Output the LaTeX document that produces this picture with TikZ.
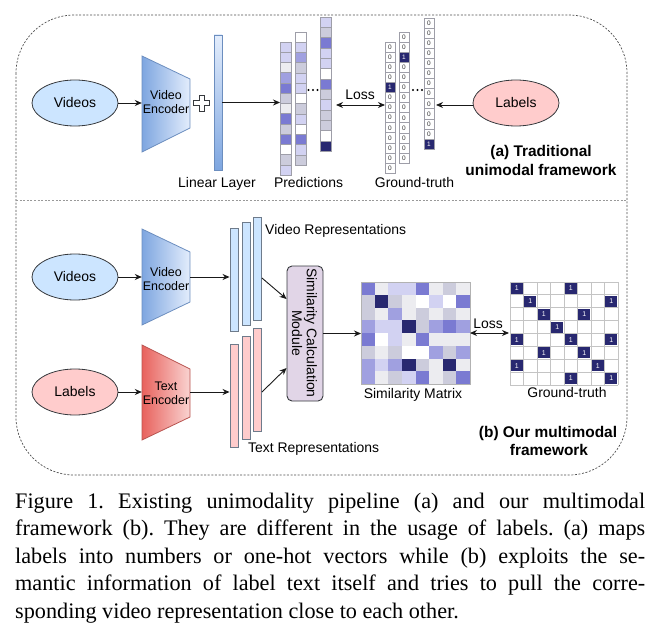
\documentclass[tikz,border=0pt]{standalone}
\usepackage{fontspec}
\setmainfont{Liberation Serif}
\newfontfamily\diagfont{Liberation Sans}
\usetikzlibrary{arrows.meta,shapes.geometric}

\definecolor{edge}{HTML}{36393D}
\definecolor{blueFill}{HTML}{CCE5FF}
\definecolor{pinkFill}{HTML}{FFCCCC}
\definecolor{encBlueDark}{HTML}{7EA6E0}
\definecolor{encBlueLight}{HTML}{E3EDFC}
\definecolor{encBlueLine}{HTML}{6C8EBF}
\definecolor{encRedDark}{HTML}{E8625D}
\definecolor{encRedLight}{HTML}{F9D3D1}
\definecolor{encRedLine}{HTML}{B85450}
\definecolor{moduleFill}{HTML}{E1D5E7}
\definecolor{repLine}{HTML}{6E7B8B}
\definecolor{cellLine}{HTML}{9E9EA8}
\definecolor{gridLine}{HTML}{C4C4C4}
\definecolor{cL}{RGB}{210,210,242}
\definecolor{cG}{RGB}{204,204,220}
\definecolor{cM}{RGB}{160,160,224}
\definecolor{cP}{RGB}{122,122,210}
\definecolor{cN}{RGB}{40,40,112}
\definecolor{cW}{RGB}{255,255,255}
\definecolor{cO}{RGB}{236,236,240}

\tikzset{
  frameline/.style={draw=black!70, line width=0.7bp, dash pattern=on 2bp off 1.6bp},
  divline/.style={draw=black!40, line width=0.7bp, dash pattern=on 2bp off 1.6bp},
  lbl/.style={font=\diagfont\fontsize{14}{16}\selectfont, inner sep=0pt, anchor=base},
  lblw/.style={font=\diagfont\fontsize{14}{16}\selectfont, inner sep=0pt, anchor=base west},
  titletext/.style={font=\diagfont\bfseries\fontsize{15.5}{19}\selectfont, inner sep=0pt, anchor=base},
  enctext/.style={font=\diagfont\fontsize{12.5}{14}\selectfont, align=center, inner sep=0pt},
  oval/.style={ellipse, draw=edge, line width=0.8bp, minimum width=86bp, minimum height=46bp,
    inner sep=0pt, font=\diagfont\fontsize{14}{16}\selectfont},
  arr/.style={-{Stealth[length=7bp,width=6bp]}, line width=0.9bp, draw=black!90},
  biarr/.style={{Stealth[length=7bp,width=6bp]}-{Stealth[length=7bp,width=6bp]}, line width=0.9bp, draw=black!90},
  repbar/.style={draw=repLine, line width=0.9bp, minimum width=8bp, inner sep=0pt},
  box/.style={inner sep=0pt, outer sep=0pt},
  cell/.style={draw=cellLine, line width=0.8bp},
  digit/.style={font=\diagfont\fontsize{6.5}{7}\selectfont, inner sep=0pt},
  gt0/.style={fill=white}, gt1/.style={fill=cN},
  gtt0/.style={text=black!80}, gtt1/.style={text=white},
  dot/.style={circle, fill=black, inner sep=0pt, minimum size=2.2bp},
  capline/.style={anchor=base west, inner sep=0pt, font=\frenchspacing\fontsize{22.3}{27}\selectfont}
}

\begin{document}
\begin{tikzpicture}[x=1bp,y=-1bp]
\useasboundingbox (0,0) rectangle (664,639);

% outer frame and the divider between the two panels
\draw[frameline, rounded corners=58bp] (16,15) rectangle (627,475);
\draw[divline] (16,200) -- (627,200);

% ---------------- (a) unimodal pipeline ----------------
\node[oval, fill=blueFill] (vidA) at (75,103) {Videos};
\path[left color=encBlueDark, right color=encBlueLight, draw=encBlueLine, line width=0.8bp]
  (142,56) -- (190,79) -- (190,128) -- (142,152) -- cycle;
\node[enctext, minimum width=48bp, minimum height=96bp] (encA) at (166,102) {Video\\Encoder};
\draw[arr] (vidA.east) -- (vidA.east -| encA.west);

% plus sign
\draw[line width=0.9bp, draw=edge, fill=white]
  (199,95) -- (204,95) -- (204,100.5) -- (209.5,100.5) -- (209.5,105.5) -- (204,105.5)
  -- (204,111) -- (199,111) -- (199,105.5) -- (193.5,105.5) -- (193.5,100.5) -- (199,100.5) -- cycle;

% linear layer
\node[draw=encBlueLine, top color=encBlueLight, bottom color=encBlueDark, line width=0.8bp,
  minimum width=8bp, minimum height=135bp, inner sep=0pt] (lin) at (218,102.5) {};
\node[lbl] (linlbl) at (217,188) {Linear Layer};

% prediction vectors
\foreach \c [count=\i] in {L,L,O,M,P,G,O,P,G,P,W,G,L}
  \draw[cell, fill=c\c] (280,{42+(\i-1)*10.25}) rectangle ++(11,10.25);
\node[box, minimum width=11bp, minimum height=133.25bp] (pc1) at (285.5,108.625) {};
\foreach \c [count=\i] in {W,L,M,G,L,L,W,G,L,W,P,L,G}
  \draw[cell, fill=c\c] (295,{32+(\i-1)*10.25}) rectangle ++(11,10.25);
\node[box, minimum width=11bp, minimum height=133.25bp] (pc2) at (300.5,98.625) {};
\foreach \c [count=\i] in {L,G,P,L,L,W,P,G,L,G,G,W,N}
  \draw[cell, fill=c\c] (320,{17+(\i-1)*10.35}) rectangle ++(11,10.35);
\node[box, minimum width=11bp, minimum height=134.55bp] (pc3) at (325.5,84.275) {};
\foreach \x [count=\i] in {308.5,313,317.5}
  \node[dot] (pdot\i) at (\x,90) {};
\node[lbl] (predlbl) at (308.5,188) {Predictions};

\coordinate (rowA) at (0,105);
\draw[arr] (lin.east) -- (lin.east -| pc1.west);

% one-hot ground truth vectors
\foreach \v [count=\i] in {0,0,0,0,1,0,0,0,0,0,0,0,0} {
  \draw[cell, gt\v] (385,{42+(\i-1)*10.1}) rectangle ++(10,10.1);
  \node[digit, gtt\v] (ga-\i) at (390,{42+(\i-0.5)*10.1}) {\v};
}
\node[box, minimum width=10bp, minimum height=131.3bp] (gc1) at (390,107.65) {};
\foreach \v [count=\i] in {0,0,1,0,0,0,0,0,0,0,0,0,0} {
  \draw[cell, gt\v] (399,{32+(\i-1)*10.1}) rectangle ++(10,10.1);
  \node[digit, gtt\v] (gb-\i) at (404,{32+(\i-0.5)*10.1}) {\v};
}
\node[box, minimum width=10bp, minimum height=131.3bp] (gc2) at (404,97.65) {};
\foreach \v [count=\i] in {0,0,0,0,0,0,0,0,0,0,0,0,1} {
  \draw[cell, gt\v] (424,{18+(\i-1)*10.1}) rectangle ++(10,10.1);
  \node[digit, gtt\v] (gc-\i) at (429,{18+(\i-0.5)*10.1}) {\v};
}
\node[box, minimum width=10bp, minimum height=131.3bp] (gc3) at (429,83.65) {};
\foreach \x [count=\i] in {413,417.5,422}
  \node[dot] (gdot\i) at (\x,90) {};
\node[lbl] (gtlblA) at (414.5,188) {Ground-truth};

% loss between predictions and one-hot targets
\node[lbl] (lossA) at (360,100) {Loss};
\draw[biarr, shorten <=5bp] (pc3.east |- rowA) -- (gc1.west |- rowA);

% labels feeding the one-hot targets
\node[oval, fill=pinkFill] (labA) at (516,103) {Labels};
\draw[arr, shorten >=2bp] (labA.west |- rowA) -- (gc3.east |- rowA);

\node[titletext] (titleA1) at (541,157) {(a) Traditional};
\node[titletext] (titleA2) at (541,176) {unimodal framework};

% ---------------- (b) multimodal framework ----------------
\node[oval, fill=blueFill] (vidB) at (75,277) {Videos};
\path[left color=encBlueDark, right color=encBlueLight, draw=encBlueLine, line width=0.8bp]
  (142,229) -- (190,252) -- (190,302) -- (142,325) -- cycle;
\node[enctext, minimum width=48bp, minimum height=96bp] (encB) at (166,279.5) {Video\\Encoder};
\draw[arr] (vidB.east) -- (vidB.east -| encB.west);

\node[oval, fill=pinkFill] (labB) at (75,392) {Labels};
\path[left color=encRedDark, right color=encRedLight, draw=encRedLine, line width=0.8bp]
  (142,345) -- (190,369) -- (190,417) -- (142,440) -- cycle;
\node[enctext, minimum width=48bp, minimum height=95bp] (encT) at (166,393.5) {Text\\Encoder};
\draw[arr] (labB.east) -- (labB.east -| encT.west);

% video representations
\node[repbar, fill=blueFill, minimum height=103bp] (vr1) at (234,279.5) {};
\node[repbar, fill=blueFill, minimum height=103bp] (vr2) at (246,273.5) {};
\node[repbar, fill=blueFill, minimum height=103bp] (vr3) at (257.5,268.5) {};
\node[lblw] (vrlbl) at (265,234) {Video Representations};
\draw[arr] (encB.east |- vidB.east) -- (vidB.east -| vr1.west);

% text representations
\node[repbar, fill=pinkFill, minimum height=103bp] (tr1) at (234,395.5) {};
\node[repbar, fill=pinkFill, minimum height=103bp] (tr2) at (246,387.5) {};
\node[repbar, fill=pinkFill, minimum height=103bp] (tr3) at (257.5,379.5) {};
\node[lblw] (trlbl) at (248,452) {Text Representations};
\draw[arr] (encT.east |- labB.east) -- (labB.east -| tr1.west);

% similarity calculation module
\node[draw=edge, fill=moduleFill, rounded corners=5bp, line width=0.9bp,
  minimum width=36bp, minimum height=135bp, inner sep=0pt] (mod) at (305,333.5) {};
\node[font=\diagfont\fontsize{14}{15}\selectfont, align=center, rotate=-90, inner sep=0pt]
  (modtext) at (304.5,333) {Similarity Calculation\\Module};
\draw[arr] ([yshift=-9.5bp]vr3.east) -- ([yshift=34.5bp]mod.west);
\draw[arr] ([yshift=-12.5bp]tr3.east) -- ([yshift=-34.5bp]mod.west);

% similarity matrix
\foreach \row [count=\r] in {{P,O,L,L,P,O,G,O},{G,N,G,O,W,L,W,P},{G,O,M,O,G,O,G,O},
    {M,L,L,N,G,M,P,M},{P,W,L,O,P,O,O,O},{G,O,G,W,W,M,G,M},{M,L,M,N,G,O,N,O},{M,O,G,L,P,O,G,P}} {
  \foreach \c [count=\k] in \row
    \fill[c\c] ({361+(\k-1)*13.625},{282+(\r-1)*12.75}) rectangle ++(13.625,12.75);
}
\node[box, draw=black!30, line width=0.6bp, minimum width=109bp, minimum height=102bp] (sm) at (415.5,333) {};
\node[lbl] (smlbl) at (413,398) {Similarity Matrix};
\draw[arr] (mod.east) -- (mod.east -| sm.west);

% ground-truth matching matrix
\foreach \i in {0,...,8} {
  \draw[draw=gridLine, line width=0.8bp] ({510+\i*13.5},282) -- ({510+\i*13.5},385);
  \draw[draw=gridLine, line width=0.8bp] (510,{282+\i*12.875}) -- (618,{282+\i*12.875});
}
\foreach \r/\k in {1/1,1/5,2/2,2/8,3/3,3/6,4/4,5/1,5/5,5/8,6/3,6/6,7/1,7/7,8/5,8/8} {
  \fill[cN] ({510+(\k-1)*13.5+0.9},{282+(\r-1)*12.875+0.9}) rectangle ++(11.7,11.075);
  \node[font=\diagfont\fontsize{7}{8}\selectfont, text=white, inner sep=0pt]
    (gm-\r-\k) at ({510+(\k-0.5)*13.5},{282+(\r-0.5)*12.875}) {1};
}
\node[box, minimum width=108bp, minimum height=103bp] (gtm) at (564,333.5) {};
\node[lbl] (gtlblB) at (567,397) {Ground-truth};

\node[lbl] (lossB) at (488,328) {Loss};
\draw[biarr, shorten >=1bp] (sm.east) -- (sm.east -| gtm.west);

\node[titletext] (titleB1) at (548,437) {(b) Our multimodal};
\node[titletext] (titleB2) at (549,455) {framework};

% ---------------- caption ----------------
\node[capline] (cap1) at (15,508)
  {\makebox[630bp][s]{Figure 1. Existing unimodality pipeline (a) and our multimodal}};
\node[capline] (cap2) at (15,535.5)
  {\makebox[630bp][s]{framework (b). They are different in the usage of labels. (a) maps}};
\node[capline] (cap3) at (15,563)
  {\makebox[630bp][s]{labels into numbers or one-hot vectors while (b) exploits the se-}};
\node[capline] (cap4) at (15,590.5)
  {\makebox[630bp][s]{mantic information of label text itself and tries to pull the corre-}};
\node[capline] (cap5) at (15,618)
  {sponding video representation close to each other.};
\end{tikzpicture}
\end{document}
